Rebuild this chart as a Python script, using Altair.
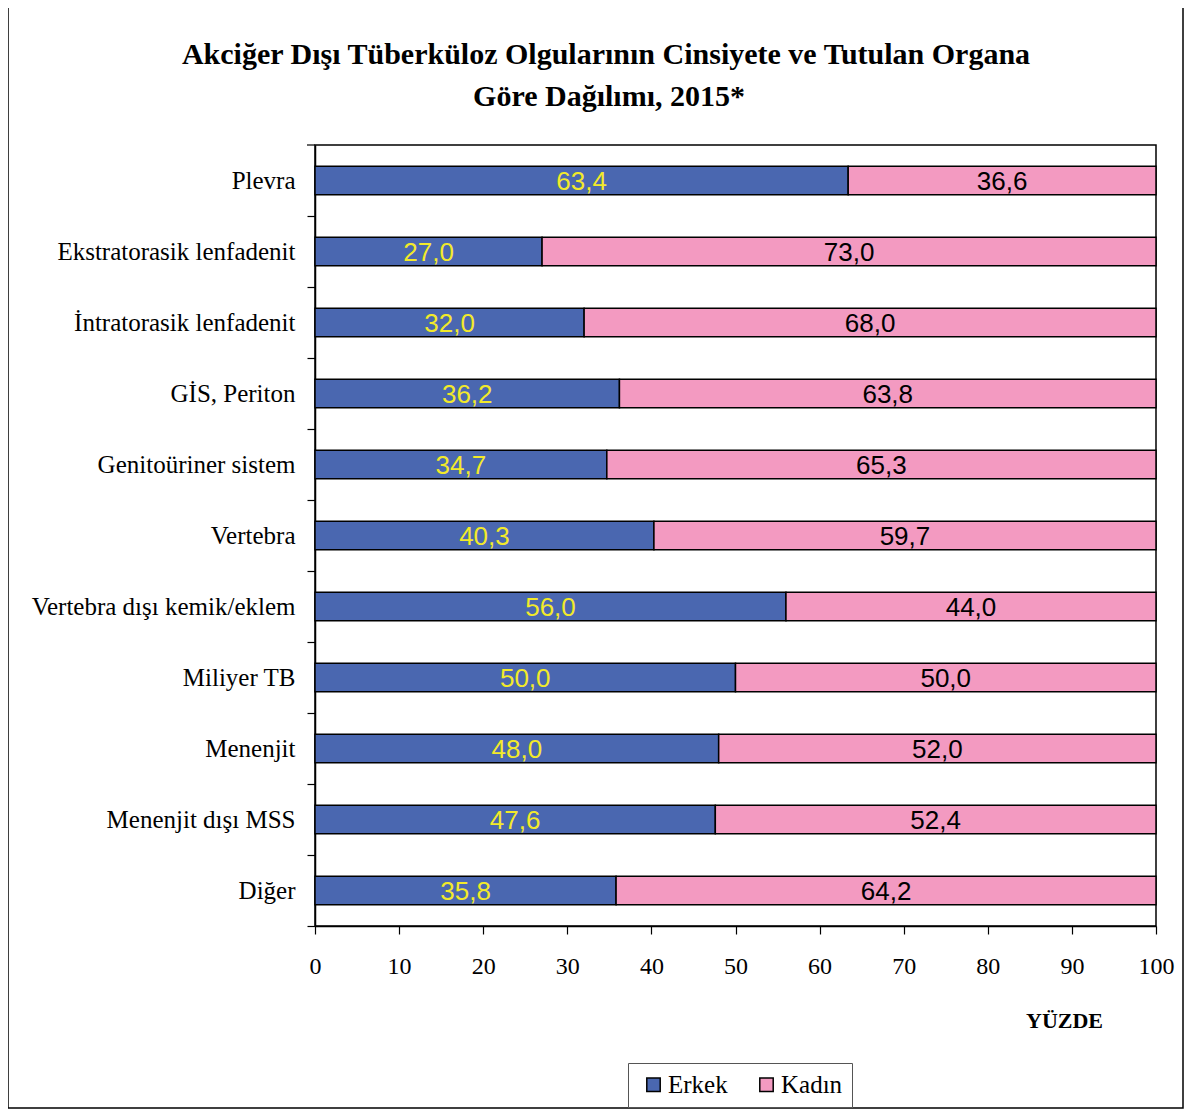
import altair as alt
import pandas as pd

categories = ["Plevra", "Ekstratorasik lenfadenit", "İntratorasik lenfadenit", "GİS, Periton",
              "Genitoüriner sistem", "Vertebra", "Vertebra dışı kemik/eklem", "Miliyer TB",
              "Menenjit", "Menenjit dışı MSS", "Diğer"]
erkek = [63.4, 27.0, 32.0, 36.2, 34.7, 40.3, 56.0, 50.0, 48.0, 47.6, 35.8]
kadin = [36.6, 73.0, 68.0, 63.8, 65.3, 59.7, 44.0, 50.0, 52.0, 52.4, 64.2]
series = ["Erkek", "Kadın"]
colors = ["#4A67B0", "#F39AC1"]
x_ticks = list(range(0, 101, 10))
title_lines = ["Akciğer Dışı Tüberküloz Olgularının Cinsiyete ve Tutulan Organa",
               "Göre Dağılımı, 2015*"]

rows = []
for c, e, k in zip(categories, erkek, kadin):
    rows.append({"cat": c, "sex": "Erkek", "order": 0, "value": e})
    rows.append({"cat": c, "sex": "Kadın", "order": 1, "value": k})
df = pd.DataFrame(rows)

W, H = 841, 781
STEP = H / len(categories)
SERIF = "Liberation Serif"
SANS = "Liberation Sans"

base = alt.Chart(df).transform_stack(
    stack="value", groupby=["cat"], as_=["x0", "x1"],
    sort=[alt.SortField("order", order="ascending")]
).transform_calculate(
    mid="(datum.x0 + datum.x1) / 2",
    lbl="replace(format(datum.value, '.1f'), '.', ',')"
)

yenc = alt.Y("cat:N", sort=categories, title=None,
             scale=alt.Scale(paddingInner=0.6, paddingOuter=0.3),
             axis=alt.Axis(labelFont=SERIF, labelFontSize=25, labelColor="black",
                           labelPadding=12, tickSize=8, tickColor="black", tickBand="center",
                           tickOffset=STEP / 2, labelOffset=-STEP / 2, tickWidth=1.2,
                           domainColor="black", domainWidth=1.5, labelLimit=400))

bars = base.mark_bar(stroke="black", strokeWidth=1.5).encode(
    x=alt.X("x0:Q", scale=alt.Scale(domain=[0, 100]), title="YÜZDE",
            axis=alt.Axis(values=x_ticks, labelFont=SERIF, labelFontSize=24, labelColor="black",
                          labelPadding=20, labelFlush=False, tickSize=8, tickColor="black",
                          tickWidth=1.2, domainColor="black",
                          domainWidth=1.5, grid=False,
                          titleFont=SERIF, titleFontSize=22, titleFontWeight="bold",
                          titleColor="black", titleX=749, titleY=94, titleAlign="center",
                          titleBaseline="middle", titleAngle=0)),
    x2="x1:Q",
    y=yenc,
    color=alt.Color("sex:N", scale=alt.Scale(domain=series, range=colors),
                    legend=alt.Legend(title=None, orient="none", direction="horizontal",
                                      legendX=313, legendY=918,
                                      symbolType="square", symbolSize=180,
                                      symbolStrokeColor="black", symbolStrokeWidth=1.5,
                                      labelFont=SERIF, labelFontSize=25, labelColor="black",
                                      strokeColor="#555", padding=9, columnPadding=22,
                                      symbolOffset=4, labelOffset=2,
                                      fillColor="white"))
)

labels = base.mark_text(font=SANS, fontSize=26, baseline="middle", align="center", dy=1).encode(
    x=alt.X("mid:Q"),
    y=alt.Y("cat:N", sort=categories),
    text="lbl:N",
    color=alt.condition("datum.sex === 'Erkek'", alt.value("#F2EA2A"), alt.value("black"))
)

title1 = alt.Chart(pd.DataFrame({"t": [title_lines[0]]})).mark_text(
    font=SERIF, fontSize=30, fontWeight="bold", color="black", align="center", baseline="middle"
).encode(text="t:N", x=alt.value(291), y=alt.value(-90))
title2 = alt.Chart(pd.DataFrame({"t": [title_lines[1]]})).mark_text(
    font=SERIF, fontSize=30, fontWeight="bold", color="black", align="center", baseline="middle"
).encode(text="t:N", x=alt.value(294), y=alt.value(-48))

border = alt.Chart(pd.DataFrame({"a": [0]})).mark_rect(
    fill=None, stroke="black", strokeWidth=1.5
).encode(
    x=alt.value(-307), x2=alt.value(868), y=alt.value(-142), y2=alt.value(963)
)

top_tick = alt.Chart(pd.DataFrame({"a": [0]})).mark_rule(color="black", strokeWidth=1.2).encode(
    x=alt.value(-8), x2=alt.value(0), y=alt.value(0)
)

chart = alt.layer(border, top_tick, bars, labels, title1, title2).properties(
    width=W, height=H,
    padding={"left": 307, "top": 137, "right": 28, "bottom": 183},
    autosize=alt.AutoSizeParams(type="none"),
    background="white"
).configure_view(stroke="black", strokeWidth=1.5)

chart.save("out.html", embed_options={"renderer": "svg", "actions": False})
